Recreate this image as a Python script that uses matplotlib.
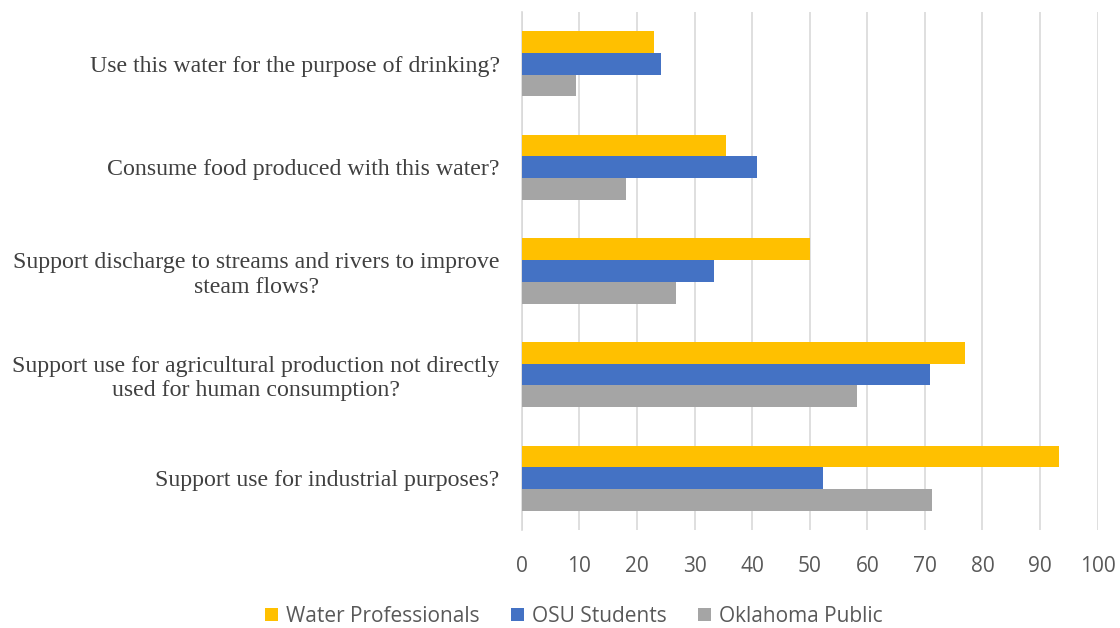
import numpy as np
import matplotlib
matplotlib.use("Agg")
import matplotlib.pyplot as plt

# survey questions, top to bottom
questions = [
    "Use this water for the purpose of drinking?",
    "Consume food produced with this water?",
    "Support discharge to streams and rivers to improve\nsteam flows?",
    "Support use for agricultural production not directly\nused for human consumption?",
    "Support use for industrial purposes?",
]
water_professionals = [22.9, 35.5, 50.0, 77.0, 93.3]
osu_students = [24.2, 40.8, 33.4, 70.9, 52.3]
oklahoma_public = [9.4, 18.1, 26.8, 58.2, 71.3]

series = [
    ("Water Professionals", water_professionals, "#FFC000"),
    ("OSU Students", osu_students, "#4472C4"),
    ("Oklahoma Public", oklahoma_public, "#A5A5A5"),
]

fig = plt.figure(figsize=(11.2, 6.28), dpi=100)
ax = fig.add_axes([0.466, 0.156, 0.514, 0.825])

y = np.arange(len(questions))
h = 0.21
for i, (name, vals, col) in enumerate(series):
    ax.barh(y + (i - 1) * h, vals, height=h, color=col, label=name, zorder=3)

ax.set_xlim(0, 100)
ax.set_xticks(np.arange(0, 101, 10))
ax.set_ylim(len(questions) - 0.5, -0.5)
ax.set_yticks(y)
ax.set_yticklabels(questions, family="Liberation Serif", fontsize=17.2,
                   color="#404040", multialignment="center")
for lbl in ax.get_xticklabels():
    lbl.set_family("Open Sans")
    lbl.set_fontsize(15)
    lbl.set_color("#595959")

ax.grid(axis="x", color="#D9D9D9", linewidth=1.2, zorder=0)
for s in ["top", "right", "bottom"]:
    ax.spines[s].set_visible(False)
ax.spines["left"].set_color("#D9D9D9")
ax.spines["left"].set_linewidth(1.2)
ax.tick_params(axis="both", length=0)
ax.tick_params(axis="x", pad=19)
ax.tick_params(axis="y", pad=16)

fig.legend(loc="center", bbox_to_anchor=(0.5125, 0.019), ncol=3, frameon=False,
           handlelength=0.6, handleheight=0.6, handletextpad=0.4, columnspacing=1.5,
           prop={"family": "Open Sans", "size": 15}, labelcolor="#595959")

fig.savefig("out.png", dpi=100)
